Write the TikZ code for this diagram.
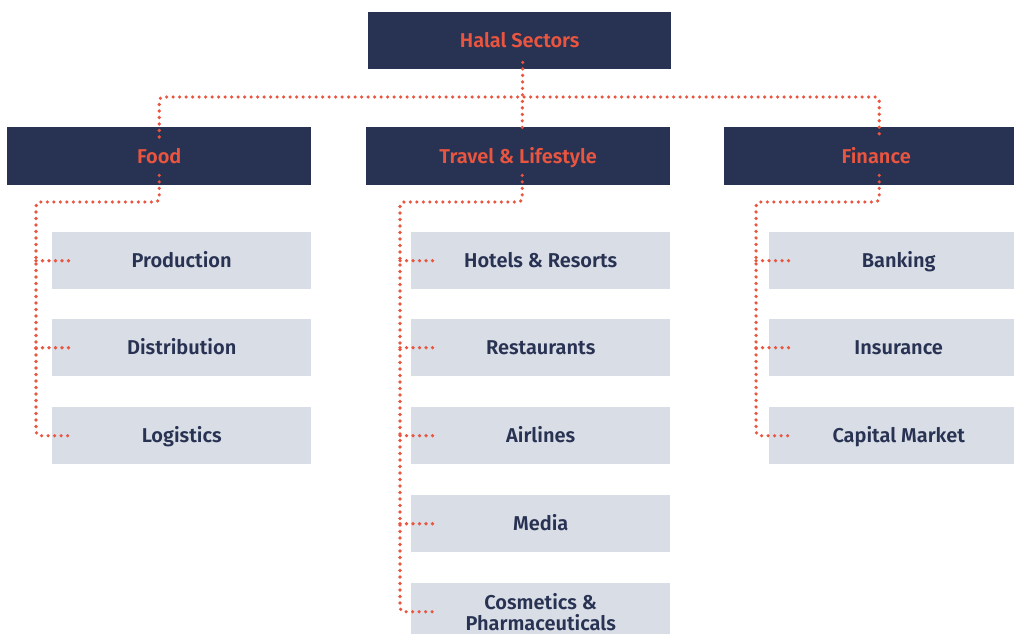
\documentclass[tikz,border=0pt]{standalone}
\usepackage{fontspec}
\setmainfont{Fira Sans SemiBold}
\usetikzlibrary{calc}
\definecolor{navy}{HTML}{283252}
\definecolor{accent}{HTML}{E9553F}
\definecolor{light}{HTML}{D9DDE6}
\begin{document}
\begin{tikzpicture}[x=1pt,y=-1pt,
  parentbox/.style={fill=navy, text=accent, minimum width=304pt, minimum height=58pt, inner sep=0pt, anchor=north west, text height=14pt, text depth=0pt, font=\fontsize{20}{21}\selectfont},
  childbox/.style={fill=light, text=navy, minimum width=259pt, minimum height=57pt, inner sep=0pt, anchor=north west, align=center, font=\fontsize{20}{21}\selectfont},
  onebox/.style={childbox, text height=14pt, text depth=0pt},
  dots/.style={draw=accent, line width=3.6pt, line cap=round, dash pattern=on 0pt off 6.5pt, rounded corners=4pt}]
\path[use as bounding box, clip] (0,0) rectangle (1014,634);
% parents
\node[parentbox, minimum width=303pt, minimum height=57pt] (root) at (368,12) {Halal Sectors};
\node[parentbox] (food) at (7,127) {Food};
\node[parentbox] (travel) at (366,127) {Travel \& Lifestyle};
\node[parentbox] (finance) at (724,127) {Finance};
% food children
\node[onebox] (prod) at (52,232) {Production};
\node[onebox] (dist) at (52,319) {Distribution};
\node[onebox] (logi) at (52,407) {Logistics};
% travel children
\node[onebox] (hotel) at (411,232) {Hotels \& Resorts};
\node[onebox] (rest) at (411,319) {Restaurants};
\node[onebox] (air) at (411,407) {Airlines};
\node[onebox] (media) at (411,495) {Media};
\node[childbox] (cosm) at (411,583) {Cosmetics \&\\Pharmaceuticals};
% finance children
\node[onebox] (bank) at (769,232) {Banking};
\node[onebox] (ins) at (769,319) {Insurance};
\node[onebox] (cap) at (769,407) {Capital Market};
% top connectors
\coordinate (bus) at (522,97);
\draw[dots] ($(root.south)+(3,-7)$) -- ($(travel.north)+(4,3)$);
\draw[dots] ($(food.north)+(0,10)$) |- (bus) -| ($(finance.north)+(3,10)$);
% food branch
\coordinate (fb) at (36,202);
\draw[dots] ($(food.south)+(0,-10)$) |- (fb) |- ($(logi.west)+(21,0)$);
\draw[dots] (fb |- prod.west) -- ($(prod.west)+(21,0)$);
\draw[dots] (fb |- dist.west) -- ($(dist.west)+(21,0)$);
% travel branch
\coordinate (tb) at (400,202);
\draw[dots] ($(travel.south)+(4,-10)$) |- (tb) |- ($(cosm.west)+(25,0)$);
\draw[dots] (tb |- hotel.west) -- ($(hotel.west)+(25,0)$);
\draw[dots] (tb |- rest.west) -- ($(rest.west)+(25,0)$);
\draw[dots] (tb |- air.west) -- ($(air.west)+(25,0)$);
\draw[dots] (tb |- media.west) -- ($(media.west)+(25,0)$);
% finance branch
\coordinate (nb) at (756,202);
\draw[dots] ($(finance.south)+(3,-10)$) |- (nb) |- ($(cap.west)+(24,0)$);
\draw[dots] (nb |- bank.west) -- ($(bank.west)+(24,0)$);
\draw[dots] (nb |- ins.west) -- ($(ins.west)+(24,0)$);
\end{tikzpicture}
\end{document}
